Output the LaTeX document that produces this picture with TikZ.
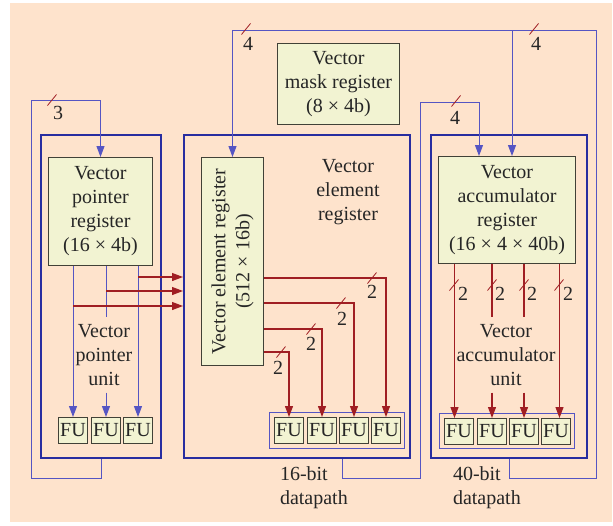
\documentclass[tikz,border=0pt]{standalone}
\usepackage{fontspec}
\setmainfont{Liberation Serif}
\usepackage{tikz}
\usetikzlibrary{arrows.meta,positioning}
\definecolor{peach}{RGB}{254,227,204}
\definecolor{regfill}{RGB}{242,243,210}
\definecolor{regdraw}{RGB}{65,65,55}
\definecolor{frameblue}{RGB}{40,45,160}
\definecolor{wireblue}{RGB}{85,85,195}
\definecolor{wirered}{RGB}{160,30,35}

\begin{document}
\begin{tikzpicture}[x=1pt,y=-1pt,
  reg/.style={rectangle,draw=regdraw,fill=regfill,line width=1pt,align=center,
              inner sep=0pt,anchor=north west,text=black!85,font=\fontsize{20}{24}\selectfont},
  fu/.style={rectangle,draw=regdraw,fill=regfill,line width=1pt,inner sep=0pt,
             minimum width=29pt,minimum height=26pt,anchor=north west,text=black!85,
             font=\fontsize{20}{24}\selectfont},
  unit/.style={rectangle,draw=frameblue,line width=2pt,anchor=north west,inner sep=0pt},
  grp/.style={rectangle,draw=wireblue,line width=1pt,anchor=north west,inner sep=0pt},
  txt/.style={align=center,inner sep=0pt,outer sep=7pt,text=black!85,font=\fontsize{20}{24}\selectfont},
  num/.style={inner sep=0pt,text=black!85,font=\fontsize{20}{24}\selectfont},
  bw/.style={wireblue,line width=1pt},
  ba/.style={wireblue,line width=1pt,-{Triangle[length=11pt,width=8pt]}},
  rw/.style={wirered,line width=1.2pt},
  ra/.style={wirered,line width=1.2pt,-{Triangle[length=11pt,width=8pt]}},
  slash/.style={wirered,line width=0.8pt}
]
\useasboundingbox (0,0) rectangle (613,525);
\fill[peach] (10,3) rectangle (612,522);

% units and registers
\node[unit,minimum width=120pt,minimum height=323pt] (vpunit) at (40,134) {};
\node[reg,minimum width=104pt,minimum height=108pt] (vpreg) at (48,157) {Vector\\pointer\\register\\(16 × 4b)};
\node[unit,minimum width=226pt,minimum height=323pt] (veunit) at (183,134) {};
\node[reg,minimum width=62pt,minimum height=208pt] (vereg) at (201,157)
  {\rotatebox{90}{\begin{tabular}{@{}c@{}}Vector element register\\(512 × 16b)\end{tabular}}};
\node[unit,minimum width=156pt,minimum height=323pt] (vaunit) at (430,134) {};
\node[reg,minimum width=137pt,minimum height=107pt] (vareg) at (438,156) {Vector\\accumulator\\register\\(16 × 4 × 40b)};
\node[reg,minimum width=122pt,minimum height=81pt] (mask) at (277,43) {Vector\\mask register\\(8 × 4b)};

% functional units
\node[grp,minimum width=135pt,minimum height=36pt] (vegrp) at (269,412) {};
\node[grp,minimum width=135pt,minimum height=35pt] (vagrp) at (439,413) {};
\node[fu] (vpfu1) at (58,417) {FU};
\node[fu] (vpfu2) at (91,417) {FU};
\node[fu] (vpfu3) at (123,417) {FU};
\node[fu] (vefu1) at (274,417) {FU};
\node[fu] (vefu2) at (307,417) {FU};
\node[fu] (vefu3) at (339,417) {FU};
\node[fu] (vefu4) at (371,417) {FU};
\node[fu] (vafu1) at (444,418) {FU};
\node[fu] (vafu2) at (477,418) {FU};
\node[fu] (vafu3) at (509,418) {FU};
\node[fu] (vafu4) at (541,418) {FU};

% labels
\node[txt] (vplab) at (104,355) {Vector\\pointer\\unit};
\node[txt] (velab) at (348,192) {Vector\\element\\register};
\node[txt] (valab) at (506,355) {Vector\\accumulator\\unit};
\node[txt,anchor=west,align=left] (vedp) at (273,488) {16-bit\\datapath};
\node[txt,anchor=west,align=left] (vadp) at (446,488) {40-bit\\datapath};

% feedback buses
\coordinate (fbl) at (31,478);
\coordinate (fbltop) at (31,100);
\draw[ba] (vpunit.south) |- (fbl) -- (fbltop) -| (vpreg.north);
\draw[slash] (52,100) ++(-4.5,5.5) -- ++(9,-11);
\node[num] (n3) at (58,113) {3};

\coordinate (fbr) at (596,478);
\coordinate (fbrtop) at (596,30);
\coordinate (vajoin) at (512,30);
\draw[ba] (vaunit.south) |- (fbr) -- (fbrtop) -| (vereg.north);
\draw[ba] (vajoin) -- (vajoin |- vareg.north);
\draw[slash] (246,29) ++(-4.5,5.5) -- ++(9,-11);
\node[num] (n4a) at (248,44) {4};
\draw[slash] (534,29) ++(-4.5,5.5) -- ++(9,-11);
\node[num] (n4b) at (536,44) {4};

\coordinate (fbm) at (342,478);
\coordinate (fbmtop) at (420,102);
\coordinate (vaentry) at (479,102);
\draw[ba] (fbm |- veunit.south) -- (fbm) -| (fbmtop) -- (vaentry) -- (vaentry |- vareg.north);
\draw[slash] (456,101) ++(-4.5,5.5) -- ++(9,-11);
\node[num] (n4c) at (455,118) {4};

% vector pointer unit
\draw[ba] (vpfu1.north |- vpreg.south) -- (vpfu1.north);
\draw[bw] (vpfu2.north |- vpreg.south) -- (vpfu2.north |- vplab.north);
\draw[ba] (vpfu2.north |- vplab.south) -- (vpfu2.north);
\draw[ba] (vpfu3.north |- vpreg.south) -- (vpfu3.north);
\draw[ra] (vpfu3.north |- 0,277) -- (veunit.west |- 0,277);
\draw[ra] (vpfu2.north |- 0,291) -- (veunit.west |- 0,291);
\draw[ra] (vpfu1.north |- 0,306) -- (veunit.west |- 0,306);

% vector element register outputs
\draw[ra] (vereg.east |- 0,278) -| (vefu4.north);
\draw[ra] (vereg.east |- 0,303) -| (vefu3.north);
\draw[ra] (vereg.east |- 0,329) -| (vefu2.north);
\draw[ra] (vereg.east |- 0,352) -| (vefu1.north);
\draw[slash] (372,278) ++(-4.5,5.5) -- ++(9,-11);
\node[num] (n2a) at (372,292) {2};
\draw[slash] (341,303) ++(-4.5,5.5) -- ++(9,-11);
\node[num] (n2b) at (342,319) {2};
\draw[slash] (311,329) ++(-4.5,5.5) -- ++(9,-11);
\node[num] (n2c) at (311,344) {2};
\draw[slash] (281,352) ++(-4.5,5.5) -- ++(9,-11);
\node[num] (n2d) at (278,368) {2};

% vector accumulator unit
\draw[ra] ([xshift=-4.5pt]vafu1.north |- vareg.south) -- ([xshift=-4.5pt]vafu1.north);
\draw[rw] (vafu2.north |- vareg.south) -- (vafu2.north |- valab.north);
\draw[ra] (vafu2.north |- valab.south) -- (vafu2.north);
\draw[rw] (vafu3.north |- vareg.south) -- (vafu3.north |- valab.north);
\draw[ra] (vafu3.north |- valab.south) -- (vafu3.north);
\draw[ra] ([xshift=3.5pt]vafu4.north |- vareg.south) -- ([xshift=3.5pt]vafu4.north);
\draw[slash] (454,285) ++(-4.5,5.5) -- ++(9,-11);
\node[num] (n2e) at (463,294) {2};
\draw[slash] (vafu2.north |- 0,285) ++(-4.5,5.5) -- ++(9,-11);
\node[num] (n2f) at (500,294) {2};
\draw[slash] (vafu3.north |- 0,285) ++(-4.5,5.5) -- ++(9,-11);
\node[num] (n2g) at (532,294) {2};
\draw[slash] (559,285) ++(-4.5,5.5) -- ++(9,-11);
\node[num] (n2h) at (568,294) {2};
\end{tikzpicture}
\end{document}
